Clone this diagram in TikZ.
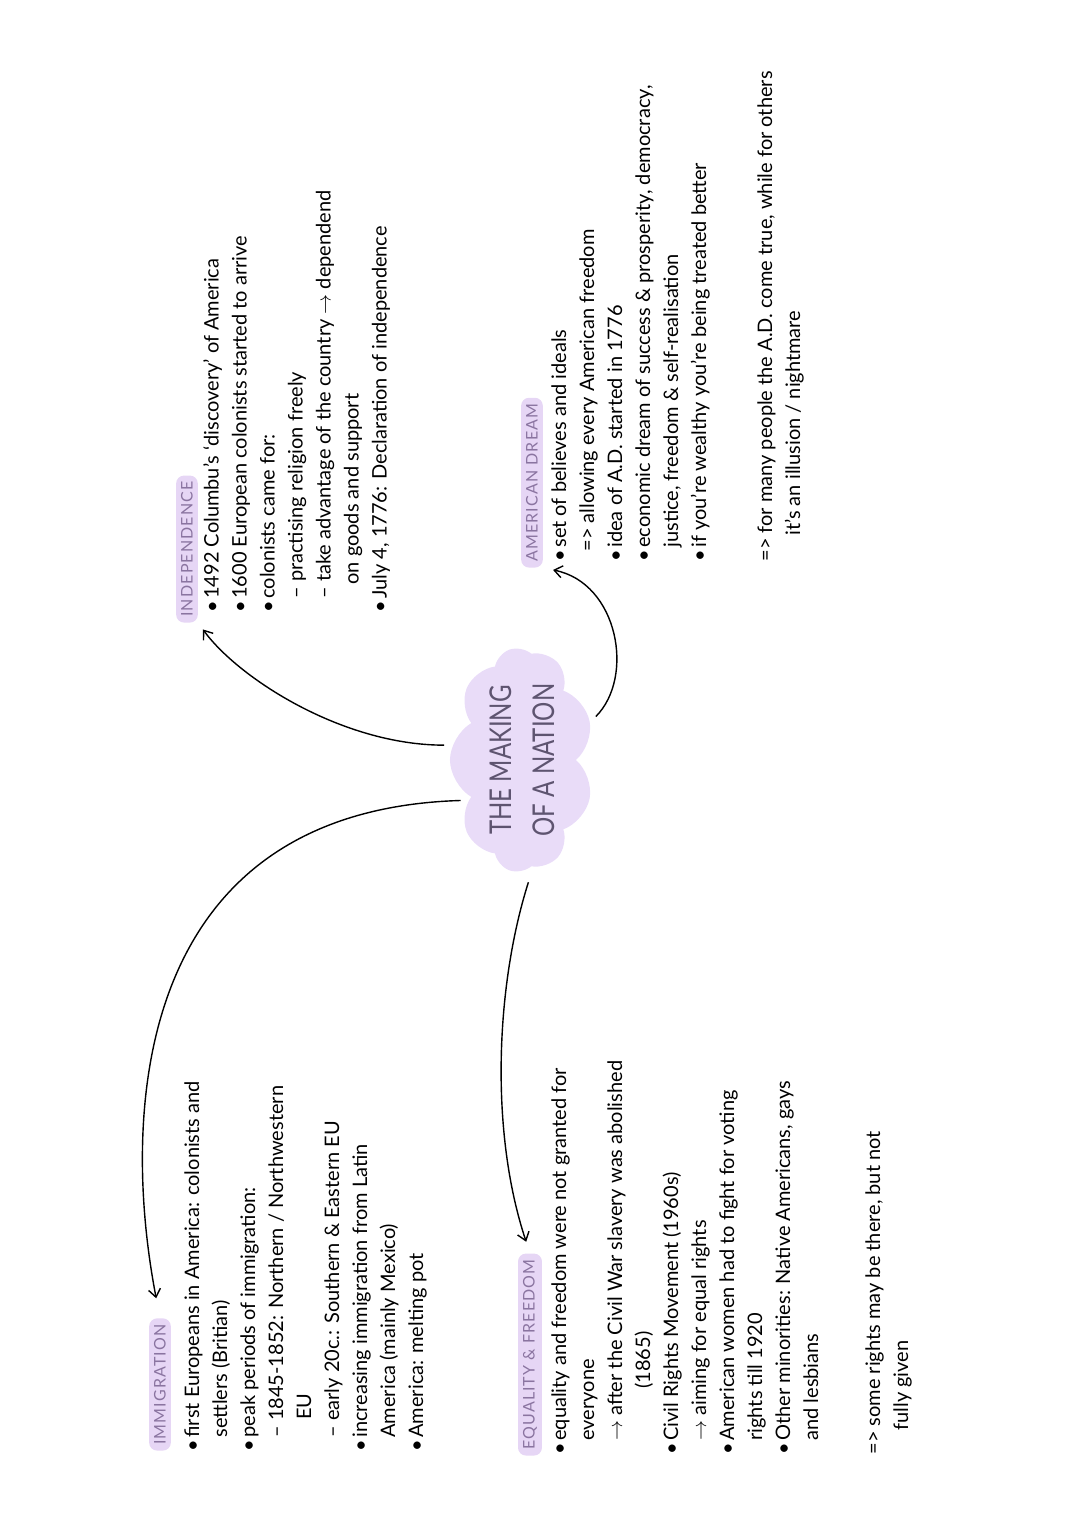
\documentclass[tikz,border=0pt]{standalone}
\usepackage{fontspec}
\setmainfont{Lato}
\newfontfamily\natheadfont{Lato}[LetterSpace=7]
\newfontfamily\nattitlefont{Lato}[FakeStretch=0.8]
\usepackage{xcolor}
\definecolor{natlilac}{HTML}{E9DCF8}
\definecolor{natmark}{HTML}{E6D6F5}
\definecolor{natheadink}{HTML}{8A74A0}
\definecolor{nattitleink}{HTML}{5E5470}
\usepackage{tikz}
\usetikzlibrary{arrows.meta,shapes.symbols}
\newcommand\natbul{\makebox[7pt][l]{\textbullet}}
\newcommand\natin[1]{\hspace*{#1pt}}
\tikzset{
  natcloud/.style={cloud,cloud puffs=9,cloud puff arc=120,aspect=2,fill=natlilac,minimum width=108pt,minimum height=52pt,inner sep=0pt,align=center,text=nattitleink,font=\nattitlefont\fontsize{15}{21.5}\selectfont},
  nathead/.style={fill=natmark,rounded corners=4pt,inner xsep=3pt,inner ysep=2.5pt,text=natheadink,font=\natheadfont\fontsize{8}{10}\selectfont,anchor=west},
  natnotes/.style={anchor=north west,inner sep=0pt,align=left,font=\fontsize{10}{14}\selectfont},
  natlink/.style={-{Straight Barb[length=4pt,width=6pt]},line width=0.7pt,shorten <=4pt},
}

\begin{document}
\begin{tikzpicture}[x=0.5pt,y=0.5pt,rotate=90,transform shape]
\path[use as bounding box] (0,0) rectangle (1527,1080);
\node[natcloud] (title) at (767,558) {THE MAKING\\OF A NATION};
\node[nathead] (indephead) at (904,893) {INDEPENDENCE};
\node[natnotes] (indepnotes) at (914,877) {\natbul 1492 Columbu's `discovery' of America\\
\natbul 1600 European colonists started to arrive\\
\natbul colonists came for:\\
\natin{7}-- practising religion freely\\
\natin{7}-- take advantage of the country $\to$ dependend\\
\natin{14}on goods and support\\
\natbul July 4, 1776: Declaration of independence};
\node[nathead] (immihead) at (76,920) {IMMIGRATION};
\node[natnotes] (imminotes) at (75,896) {\natbul first Europeans in America: colonists and\\
\natin{7}settlers (Britian)\\
\natbul peak periods of immigration:\\
\natin{7}-- 1845-1852: Northern / Northwestern\\
\natin{16}EU\\
\natin{7}-- early 20c.: Southern \& Eastern EU\\
\natbul increasing immigration from Latin\\
\natin{7}America (mainly Mexico)\\
\natbul America: melting pot};
\node[nathead] (equalhead) at (71,550) {EQUALITY \& FREEDOM};
\node[natnotes] (equalnotes) at (72,529) {\natbul equality and freedom were not granted for\\
\natin{7}everyone\\
\natin{7}$\to$ after the Civil War slavery was abolished\\
\natin{33}(1865)\\
\natbul Civil Rights Movement (1960s)\\
\natin{7}$\to$ aiming for equal rights\\
\natbul American women had to fight for voting\\
\natin{7}rights till 1920\\
\natbul Other minorities: Native Americans, gays\\
\natin{7}and lesbians\\[17pt]
=> some rights may be there, but not\\
\natin{12}fully given};
\node[nathead] (dreamhead) at (959,548) {AMERICAN DREAM};
\node[natnotes] (dreamnotes) at (965,529) {\natbul set of believes and ideals\\
\natin{5}=> allowing every American freedom\\
\natbul idea of A.D. started in 1776\\
\natbul economic dream of success \& prosperity, democracy,\\
\natin{7}justice, freedom \& self-realisation\\
\natbul if you're wealthy you're being treated better\\[19pt]
=> for many people the A.D. come true, while for others\\
\natin{13}it's an illusion / nightmare};
\draw[natlink,shorten >=4pt] (title.78) .. controls +(0,110) and +(-55,-40) .. (indephead.south west);
\draw[natlink,shorten >=10pt] (title.127) .. controls +(-10,333) and +(208,40) .. (immihead.east);
\draw[natlink,shorten <=8pt,shorten >=6pt] (title.186) .. controls +(-120,38) and +(120,40) .. (equalhead.east);
\draw[natlink,shorten >=5pt] (title.-61) .. controls +(45,-45) and +(-15,-75) .. (dreamhead.south west);
\end{tikzpicture}
\end{document}
